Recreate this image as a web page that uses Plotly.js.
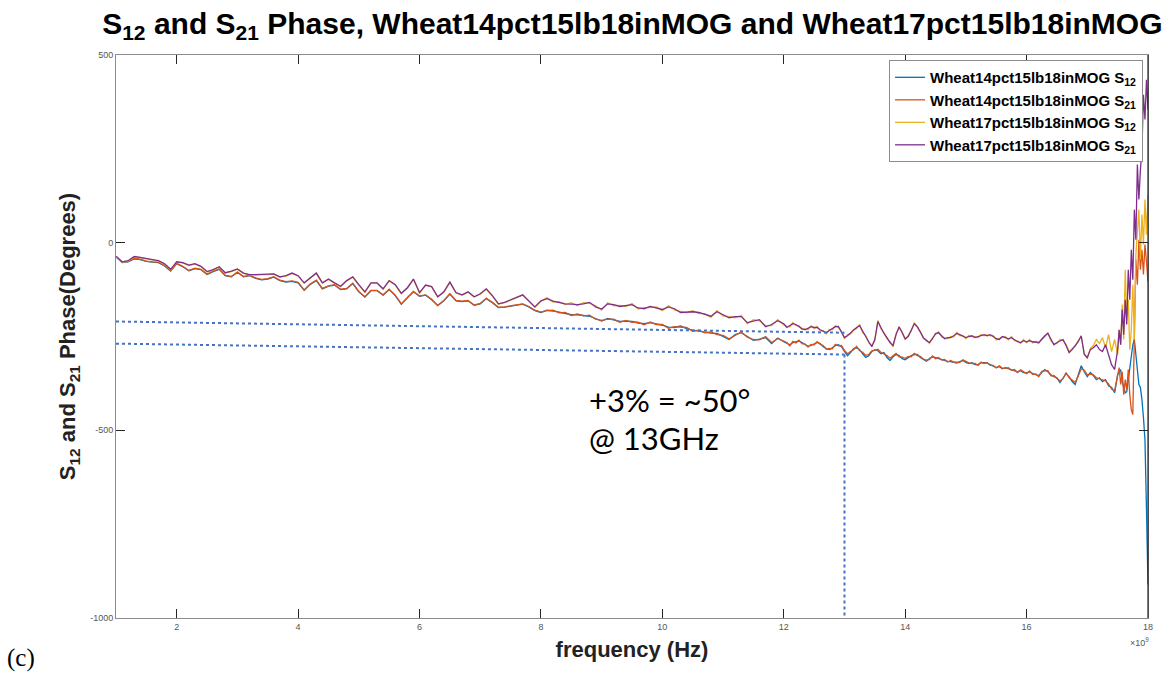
<!DOCTYPE html>
<html>
<head>
<meta charset="utf-8">
<script src="https://cdn.plot.ly/plotly-3.0.1.min.js"></script>
<style>html,body{margin:0;padding:0;background:#fff}#chart{width:1171px;height:675px}</style>
</head>
<body>
<div id="chart"></div>
<script>
// Frequency grid in GHz (axis scaled x10^9)
const freqGHz = [
1.0,1.1,1.2,1.3,1.4,1.5,1.6,1.7,1.8,1.9,2.0,
2.1,2.2,2.3,2.4,2.5,2.6,2.7,2.8,2.9,3.0,
3.1,3.2,3.3,3.4,3.5,3.6,3.7,3.8,3.9,4.0,
4.1,4.2,4.3,4.4,4.5,4.6,4.7,4.8,4.9,5.0,
5.1,5.2,5.3,5.4,5.5,5.6,5.7,5.8,5.9,6.0,
6.1,6.2,6.3,6.4,6.5,6.6,6.7,6.8,6.9,7.0,
7.1,7.2,7.3,7.4,7.5,7.6,7.7,7.8,7.9,8.0,
8.1,8.2,8.3,8.4,8.5,8.6,8.7,8.8,8.9,9.0,
9.1,9.2,9.3,9.4,9.5,9.6,9.7,9.8,9.9,10.0,
10.1,10.2,10.3,10.4,10.5,10.6,10.7,10.8,10.9,11.0,
11.1,11.2,11.3,11.4,11.5,11.6,11.7,11.8,11.9,12.0,
12.05,12.1,12.15,12.2,12.25,12.3,12.35,12.4,12.45,12.5,12.55,12.6,12.65,12.7,12.75,12.8,12.85,12.9,12.95,13.0,
13.05,13.1,13.15,13.2,13.25,13.3,13.35,13.4,13.45,13.5,13.55,13.6,13.65,13.7,13.75,13.8,13.85,13.9,13.95,14.0,
14.05,14.1,14.15,14.2,14.25,14.3,14.35,14.4,14.45,14.5,14.55,14.6,14.65,14.7,14.75,14.8,14.85,14.9,14.95,15.0,
15.05,15.1,15.15,15.2,15.25,15.3,15.35,15.4,15.45,15.5,15.55,15.6,15.65,15.7,15.75,15.8,15.85,15.9,15.95,16.0,
16.05,16.1,16.15,16.2,16.25,16.3,16.35,16.4,16.45,16.5,16.55,16.6,16.65,16.7,16.75,16.8,16.85,16.9,16.95,17.0,
17.05,17.1,17.15,17.2,17.25,17.3,17.35,17.4,17.45,17.5,
17.525,17.55,17.575,17.6,17.625,17.65,17.675,17.7,17.725,17.75,17.775,17.8,17.825,17.85,17.875,17.9,17.925,17.95,17.975,18.0
];

const wheat14_S12 = [
-38,-53,-51,-43,-45,-50,-52,-53,-62,-76,-56,
-64,-75,-69,-72,-85,-77,-71,-88,-91,-79,
-91,-88,-95,-99,-97,-92,-101,-105,-103,-107,
-127,-111,-101,-123,-116,-113,-125,-123,-109,-131,
-145,-128,-128,-140,-125,-141,-164,-147,-131,-143,
-140,-152,-168,-155,-137,-155,-157,-155,-167,-163,
-149,-160,-173,-172,-169,-167,-164,-171,-181,-186,
-180,-182,-186,-189,-192,-192,-194,-196,-202,-209,
-202,-206,-210,-209,-210,-214,-216,-213,-216,-220,
-225,-226,-222,-229,-233,-236,-238,-241,-242,-250,
-258,-245,-240,-250,-260,-257,-253,-269,-254,-264,
-269,-272,-266,-264,-262,-266,-272,-276,-274,-269,-266,-269,-277,-282,-285,-280,-274,-272,-277,-290,
-301,-293,-282,-280,-285,-296,-306,-301,-290,-285,-288,-296,-293,-306,-314,-304,-298,-301,-309,-312,
-306,-301,-298,-298,-306,-312,-316,-309,-304,-306,-309,-312,-314,-316,-317,-320,-321,-317,-314,-319,
-322,-320,-325,-325,-320,-320,-321,-325,-330,-333,-330,-336,-333,-336,-338,-341,-344,-341,-346,-347,
-344,-349,-352,-354,-346,-338,-344,-352,-357,-360,-373,-360,-349,-357,-370,-378,-352,-328,-344,-357,
-346,-354,-365,-360,-370,-365,-381,-386,-400,-352,
-344,-338,-370,-386,-400,-397,-365,-344,-312,-272,-258,-298,-333,-378,-386,-418,-466,-525,-711,-911
];

const wheat14_S21 = [
-37,-52,-50,-42,-44,-49,-51,-52,-61,-75,-55,
-63,-74,-68,-71,-84,-76,-70,-87,-90,-78,
-90,-87,-94,-98,-96,-91,-100,-104,-102,-106,
-126,-110,-100,-122,-115,-112,-124,-122,-108,-130,
-144,-127,-127,-139,-124,-140,-163,-146,-130,-142,
-139,-151,-167,-154,-136,-154,-156,-154,-166,-162,
-148,-159,-172,-171,-168,-166,-163,-170,-180,-185,
-181,-180,-187,-186,-194,-190,-195,-193,-204,-207,
-204,-204,-212,-207,-212,-212,-219,-211,-218,-218,
-228,-224,-224,-226,-236,-233,-240,-238,-245,-247,
-256,-247,-238,-252,-258,-259,-250,-266,-256,-262,
-266,-275,-263,-267,-260,-269,-270,-278,-271,-272,-264,-271,-274,-284,-282,-283,-271,-275,-274,-287,
-296,-290,-285,-276,-288,-292,-300,-298,-288,-287,-284,-292,-296,-301,-308,-302,-295,-304,-305,-308,
-303,-304,-295,-301,-303,-310,-313,-311,-302,-309,-306,-313,-311,-318,-314,-318,-319,-319,-312,-317,
-320,-322,-322,-327,-318,-322,-319,-327,-327,-334,-328,-334,-335,-333,-340,-338,-346,-339,-344,-349,
-342,-351,-350,-357,-343,-341,-341,-355,-354,-362,-368,-363,-346,-360,-366,-372,-356,-336,-340,-352,
-350,-352,-360,-363,-366,-368,-376,-390,-395,-350,
-333,-378,-344,-405,-365,-392,-338,-405,-445,-458,-232,-45,-112,8,-72,-19,-85,-5,-51,-104
];

const wheat17_S12 = [
-37,-52,-49,-38,-40,-44,-46,-49,-57,-72,-52,
-54,-61,-57,-64,-78,-73,-65,-81,-77,-71,
-82,-86,-86,-86,-85,-84,-92,-89,-82,-89,
-108,-94,-82,-108,-98,-108,-117,-102,-92,-113,
-132,-108,-108,-124,-102,-113,-136,-121,-98,-134,
-114,-118,-145,-132,-106,-134,-140,-132,-145,-137,
-124,-142,-164,-160,-153,-146,-140,-156,-172,-156,
-146,-158,-157,-165,-160,-168,-160,-162,-168,-180,
-160,-168,-167,-170,-162,-177,-173,-173,-171,-181,
-168,-179,-183,-187,-181,-189,-189,-199,-181,-195,
-197,-200,-194,-216,-205,-208,-221,-221,-205,-219,
-223,-224,-213,-221,-221,-232,-229,-232,-221,-229,-223,-235,-234,-243,-231,-232,-221,-226,-237,-256,
-245,-243,-231,-229,-218,-240,-247,-267,-274,-261,-207,-229,-239,-256,-263,-277,-242,-227,-237,-259,
-247,-235,-213,-227,-237,-256,-258,-269,-253,-245,-237,-251,-253,-256,-250,-251,-239,-248,-247,-256,
-247,-251,-250,-253,-245,-248,-245,-248,-247,-259,-255,-253,-250,-259,-250,-261,-261,-269,-258,-267,
-258,-267,-263,-269,-255,-251,-239,-261,-269,-269,-258,-261,-271,-290,-282,-277,-261,-251,-295,-309,
-282,-274,-258,-269,-253,-280,-245,-290,-258,-298,
-232,-272,-165,-258,-72,-205,-152,-285,-232,-112,-258,-32,35,88,-45,75,-5,115,21,128
];

const wheat17_S21 = [
-36,-51,-48,-37,-39,-43,-45,-48,-56,-71,-51,
-53,-60,-56,-63,-77,-72,-64,-80,-76,-70,
-81,-85,-85,-85,-84,-83,-91,-88,-81,-88,
-107,-93,-81,-107,-97,-107,-116,-101,-91,-112,
-131,-107,-107,-123,-101,-112,-135,-120,-97,-133,
-113,-117,-144,-131,-105,-133,-139,-131,-144,-136,
-123,-141,-163,-159,-152,-145,-139,-155,-171,-155,
-149,-156,-160,-163,-164,-165,-163,-159,-171,-177,
-163,-165,-170,-167,-165,-174,-176,-170,-174,-178,
-171,-176,-186,-184,-184,-186,-192,-196,-184,-192,
-200,-197,-197,-213,-208,-205,-224,-218,-208,-216,
-226,-221,-216,-218,-224,-229,-232,-229,-224,-226,-226,-232,-237,-240,-234,-229,-224,-223,-240,-253,
-248,-240,-234,-226,-221,-237,-250,-264,-277,-258,-210,-226,-242,-253,-266,-274,-245,-224,-240,-256,
-250,-232,-216,-224,-240,-253,-261,-266,-256,-242,-240,-248,-256,-253,-253,-248,-242,-245,-250,-253,
-250,-248,-253,-250,-248,-245,-248,-245,-250,-256,-258,-250,-253,-256,-253,-258,-264,-266,-261,-264,
-261,-264,-266,-266,-258,-248,-242,-258,-272,-266,-261,-258,-274,-293,-285,-274,-264,-248,-298,-306,
-285,-280,-272,-285,-290,-272,-298,-325,-338,-285,
-232,-272,-178,-245,-152,-218,-72,-152,-19,-99,88,8,208,115,194,248,394,328,434,354
];

// Hand-drawn dotted guide lines (GHz, degrees)
const guideX = [1, 13];
const guideUpperY = [-210, -240];
const guideLowerY = [-269, -298];
const guideVertX = [13, 13];
const guideVertY = [-298, -1000];

const seriesNames = [
  '<b>Wheat14pct15lb18inMOG S<sub>12</sub></b>',
  '<b>Wheat14pct15lb18inMOG S<sub>21</sub></b>',
  '<b>Wheat17pct15lb18inMOG S<sub>12</sub></b>',
  '<b>Wheat17pct15lb18inMOG S<sub>21</sub></b>'
];
const seriesColors = ['#0072BD', '#D95319', '#EDB120', '#7E2F8E'];
const seriesValues = [wheat14_S12, wheat14_S21, wheat17_S12, wheat17_S21];

const xTicks = [2, 4, 6, 8, 10, 12, 14, 16, 18];
const yTicks = [-1000, -500, 0, 500];

const traces = seriesValues.map((v, i) => ({
  x: freqGHz, y: v, type: 'scatter', mode: 'lines', name: seriesNames[i],
  line: {color: seriesColors[i], width: 1.3}
}));
const guideStyle = {color: '#4472C4', width: 2, dash: 'dot'};
traces.push({x: guideX, y: guideUpperY, mode: 'lines', line: guideStyle, showlegend: false});
traces.push({x: guideX, y: guideLowerY, mode: 'lines', line: guideStyle, showlegend: false});
traces.push({x: guideVertX, y: guideVertY, mode: 'lines', line: guideStyle, showlegend: false});

const axisCommon = {
  showline: true, mirror: 'allticks', linecolor: '#8c8c8c', linewidth: 1,
  ticks: 'inside', ticklen: 9, tickcolor: '#262626', tickwidth: 1,
  showgrid: false, zeroline: false,
  tickfont: {family: 'Liberation Sans, Arial, sans-serif', size: 9, color: '#555'}
};

const layout = {
  width: 1171, height: 675,
  margin: {l: 116, r: 23, t: 55, b: 57},
  paper_bgcolor: '#fff', plot_bgcolor: '#fff',
  font: {family: 'Liberation Sans, Arial, sans-serif', color: '#000'},
  title: {
    text: '<b>S<sub>12</sub> and S<sub>21</sub> Phase, Wheat14pct15lb18inMOG and Wheat17pct15lb18inMOG</b>',
    font: {family: 'Liberation Sans, Arial, sans-serif', size: 30, color: '#000'},
    x: 0.54, xanchor: 'center', y: 0.965, yanchor: 'middle'
  },
  xaxis: Object.assign({}, axisCommon, {
    range: [1, 18], tickvals: xTicks, ticktext: xTicks.map(String),
    title: {text: '<b>frequency (Hz)</b>', font: {size: 22, color: '#222'}, standoff: 10}
  }),
  yaxis: Object.assign({}, axisCommon, {
    range: [-1000, 500], tickvals: yTicks, ticktext: yTicks.map(String),
    title: {text: '<b>S<sub>12</sub> and S<sub>21</sub> Phase(Degrees)</b>', font: {size: 22, color: '#222'}, standoff: 8}
  }),
  legend: {
    x: 0.9952, xanchor: 'right', y: 0.991, yanchor: 'top',
    bgcolor: '#fff', bordercolor: '#8c8c8c', borderwidth: 1,
    font: {family: 'Liberation Sans, Arial, sans-serif', size: 15, color: '#000'},
    itemwidth: 30, tracegroupgap: 0
  },
  shapes: [
    {type: 'line', xref: 'paper', yref: 'paper', x0: 1, x1: 1, y0: 0, y1: 1, line: {color: '#222', width: 1.2}}
  ],
  annotations: [
    {text: '+3% = ~50°', xref: 'paper', yref: 'paper', x: (587 - 116) / 1032, y: (618 - 400) / 563,
     xanchor: 'left', yanchor: 'middle', showarrow: false,
     font: {family: 'Lato, Open Sans, sans-serif', size: 31, color: '#000'}},
    {text: '@ 13GHz', xref: 'paper', yref: 'paper', x: (587 - 116) / 1032, y: (618 - 438) / 563,
     xanchor: 'left', yanchor: 'middle', showarrow: false,
     font: {family: 'Lato, Open Sans, sans-serif', size: 31, color: '#000'}},
    {text: '(c)', xref: 'paper', yref: 'paper', x: (5 - 116) / 1032, y: (618 - 658) / 563,
     xanchor: 'left', yanchor: 'middle', showarrow: false,
     font: {family: 'Liberation Serif, Times New Roman, serif', size: 25, color: '#000'}},
    {text: '×10<sup>9</sup>', xref: 'paper', yref: 'paper', x: (1151 - 116) / 1032, y: (618 - 642) / 563,
     xanchor: 'right', yanchor: 'middle', showarrow: false,
     font: {family: 'Liberation Sans, Arial, sans-serif', size: 9, color: '#555'}}
  ],
  showlegend: true
};

Plotly.newPlot('chart', traces, layout, {staticPlot: true, displayModeBar: false});
</script>
</body>
</html>
